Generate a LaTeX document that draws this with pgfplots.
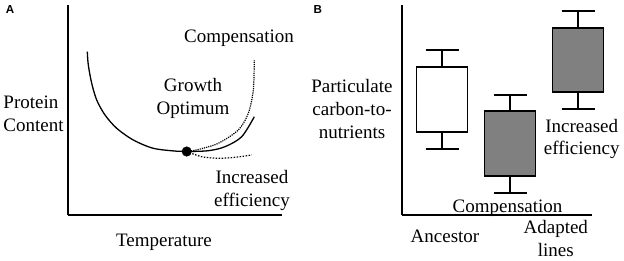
\documentclass[border=0pt]{standalone}
\usepackage{pgfplots}
\pgfplotsset{compat=1.18}
\usepgfplotslibrary{statistics}
\usepackage{fontspec}
\setmainfont{Liberation Serif}
\newfontfamily\panelfont{Liberation Sans}
\definecolor{boxgray}{RGB}{128,128,128}
\begin{document}
\begin{tikzpicture}[x=1bp,y=1bp]
\useasboundingbox (0,0) rectangle (624,260);
\pgfplotsset{every axis/.append style={scale only axis, axis x line=bottom, axis y line=left,
  axis line style={-, line width=1.4bp}, xtick=\empty, ytick=\empty, clip=false}}
% Panel A
\begin{axis}[at={(68,45)}, anchor=south west, width=214bp, height=210bp,
  xmin=0, xmax=214, ymin=0, ymax=210]
\addplot[smooth, line width=1.3bp] coordinates {(19.3,163.3) (20.3,150) (23.7,131.7) (28.7,115) (37,100) (48.7,86.7) (65.3,75) (85.3,66.7) (108.7,63.8) (118.7,63.5) (140.3,64.3) (157,68.3) (173.7,78.3) (186.3,98.3)};
\addplot[smooth, densely dotted, line width=1.2bp] coordinates {(118.7,63.5) (130.3,65.5) (150.3,71.7) (170.3,85) (180.3,101.7) (185.3,125) (186.3,155)};
\addplot[smooth, dash pattern=on 1.5bp off 1.5bp, line width=1.2bp] coordinates {(118.7,63.5) (133.7,58.3) (150.3,56.7) (167,57.7) (183.7,60)};
\addplot[only marks, mark=*, mark size=4.8bp, mark options={fill=black, draw=black}] coordinates {(118.7,63.5)};
\end{axis}
% Panel B
\begin{axis}[at={(402,45)}, anchor=south west, width=190bp, height=210bp,
  xmin=0, xmax=190, ymin=0, ymax=210, boxplot/draw direction=y, boxplot/draw/median/.code={}]
\addplot[boxplot prepared={draw position=40, lower whisker=66, lower quartile=83, median=100, upper quartile=148, upper whisker=165, box extend=51, whisker extend=33}, draw=black, fill=white, line width=1.4bp] coordinates {};
\addplot[boxplot prepared={draw position=108, lower whisker=22, lower quartile=39, median=60, upper quartile=104, upper whisker=120, box extend=51, whisker extend=33}, draw=black, fill=boxgray, line width=1.4bp] coordinates {};
\addplot[boxplot prepared={draw position=176, lower whisker=106, lower quartile=123, median=150, upper quartile=187, upper whisker=204, box extend=51, whisker extend=33}, draw=black, fill=boxgray, line width=1.4bp] coordinates {};
\end{axis}
\tikzset{lbl/.style={inner sep=0pt, font=\fontsize{19bp}{22.7bp}\selectfont}}
\node[font=\panelfont\bfseries\fontsize{11.6bp}{13bp}\selectfont, inner sep=0pt] at (10,250.7) {A};
\node[font=\panelfont\bfseries\fontsize{11.6bp}{13bp}\selectfont, inner sep=0pt] at (317.7,250.8) {B};
\node[lbl, anchor=base] at (239,218) {Compensation};
\node[lbl, anchor=base] at (164,14) {Temperature};
\node[lbl, anchor=base west, align=left] at (3.3,129) {Protein\\Content};
\node[lbl, anchor=base, align=center] at (193,145.5) {Growth\\Optimum};
\node[lbl, anchor=base, align=center] at (252,54) {Increased\\efficiency};
\node[lbl, anchor=base, align=center] at (352,122) {Particulate\\carbon-to-\\nutrients};
\node[lbl, anchor=base, align=center] at (581.7,105.3) {Increased\\efficiency};
\node[lbl, anchor=base] at (507.5,48) {Compensation};
\node[lbl, anchor=base] at (445,17.3) {Ancestor};
\node[lbl, anchor=base, align=center] at (555.8,3.5) {Adapted\\lines};
\end{tikzpicture}
\end{document}
